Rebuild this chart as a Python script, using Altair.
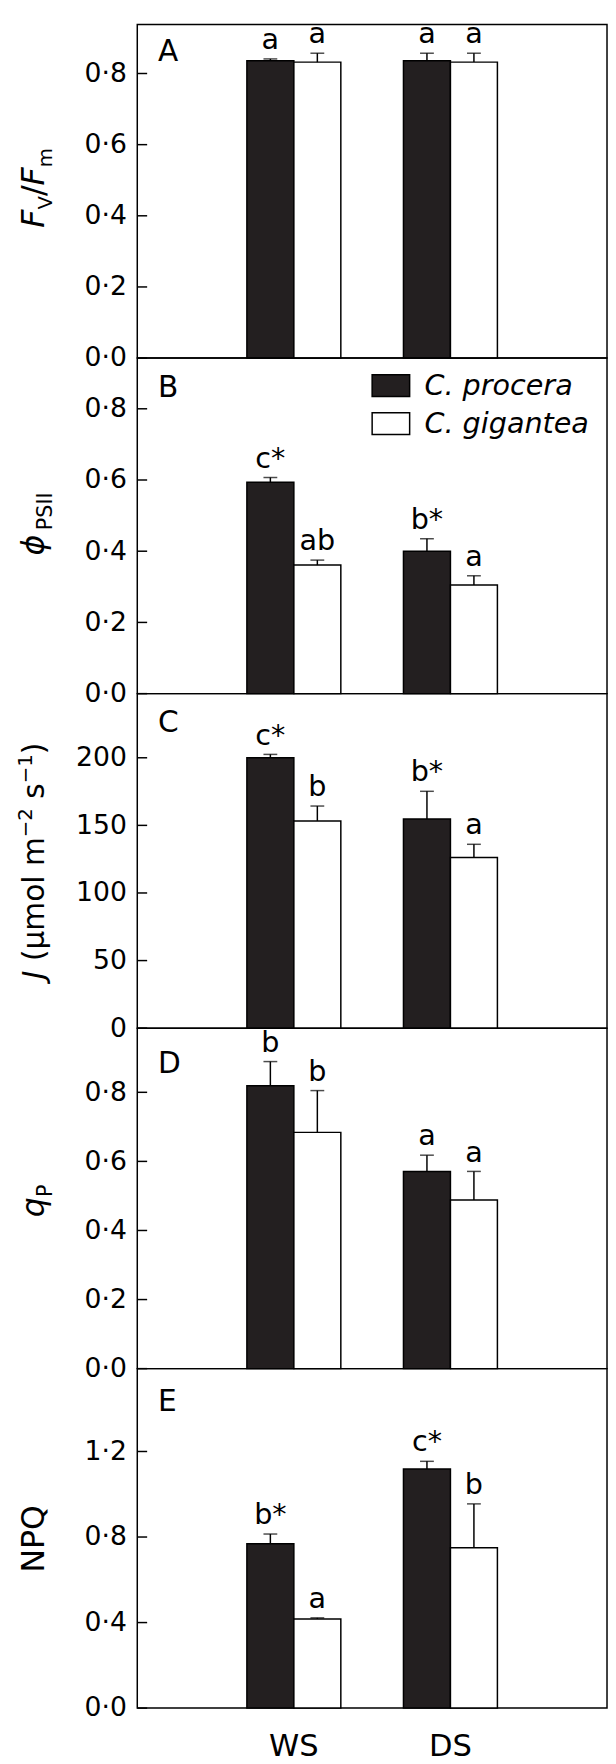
import altair as alt
import pandas as pd

FONT = "DejaVu Sans"
NB = "\u00a0"

conditions = ["WS", "DS"]
species = ["C. procera", "C. gigantea"]

# order of values: WS procera, WS gigantea, DS procera, DS gigantea
fvfm_mean = [0.836, 0.832, 0.836, 0.832]
fvfm_err = [0.005, 0.025, 0.021, 0.025]
fvfm_sig = ["a", "a", "a", "a"]

phi_mean = [0.594, 0.361, 0.400, 0.305]
phi_err = [0.013, 0.014, 0.035, 0.026]
phi_sig = ["c*", "ab", "b*", "a"]

j_mean = [200.0, 153.3, 154.7, 126.3]
j_err = [2.5, 11.0, 20.5, 9.7]
j_sig = ["c*", "b", "b*", "a"]

qp_mean = [0.819, 0.684, 0.571, 0.488]
qp_err = [0.070, 0.121, 0.047, 0.083]
qp_sig = ["b", "b", "a", "a"]

npq_mean = [0.769, 0.417, 1.118, 0.750]
npq_err = [0.045, 0.005, 0.036, 0.205]
npq_sig = ["b*", "a", "c*", "b"]

ticks_frac = [0.0, 0.2, 0.4, 0.6, 0.8]
ticks_j = [0, 50, 100, 150, 200]
ticks_npq = [0.0, 0.4, 0.8, 1.2]

# approximate advance widths (em) for laying out the composite axis titles
ADV = {"F": .575, "V": .684, "/": .337, "m": .974, "ϕ": .80, "P": .603, "S": .635,
       "I": .295, "J": .295, NB: .318, " ": .318, "(": .390, ")": .390, "μ": .636,
       "o": .612, "l": .278, "−": .838, "2": .636, "1": .636, "s": .521, "q": .635,
       "N": .748, "Q": .787}

PLOT_W = 476
one = pd.DataFrame({"k": [0]})


def adv(t, s):
    return sum(ADV.get(c, 0.6) for c in t) * s


def text_piece(txt, x, y, size, italic=False, angle=270, align="left"):
    kw = dict(text=txt, font=FONT, fontSize=size, color="black", align=align,
              baseline="alphabetic")
    if angle:
        kw["angle"] = angle
    if italic:
        kw["fontStyle"] = "italic"
    return alt.Chart(one).mark_text(**kw).encode(x=alt.value(x), y=alt.value(y))


def title_layers(pieces, center, base_x=-95):
    total = sum(adv(t, s) for t, s, it, sh in pieces)
    y = center + total / 2
    out = []
    for t, s, it, sh in pieces:
        lead = len(t) - len(t.lstrip(NB))
        y -= lead * ADV[NB] * s
        t = t.lstrip(NB)
        out.append(text_piece(t, base_x + sh, y, s, it))
        y -= adv(t, s)
    return out


def panel(mean, err, sig, ymax, ticks, height, decimal, pieces, center,
          letter, letter_y, legend=False, xaxis=False):
    df = pd.DataFrame({
        "cond": [c for c in conditions for _ in species],
        "sp": species * 2,
        "mean": mean,
        "err": err,
        "sig": sig,
    })
    df["hi"] = df["mean"] + df["err"]
    base = alt.Chart(df)

    if xaxis:
        xax = alt.Axis(labelFontSize=31, ticks=False, domain=False, labelPadding=24,
                       labelAngle=0, labelFont=FONT, labelColor="black", title=None)
    else:
        xax = None
    xenc = alt.X("cond:N", sort=conditions, title=None, axis=xax,
                 scale=alt.Scale(paddingInner=0.4, paddingOuter=0.7))
    xoff = alt.XOffset("sp:N", sort=species, scale=alt.Scale(paddingInner=0, paddingOuter=0))
    yscale = alt.Scale(domain=[0, ymax], nice=False, zero=True)
    if decimal:
        yax = alt.Axis(values=ticks, labelExpr="replace(format(datum.value, '.1f'), '.', '·')",
                       ticks=False, domain=False, grid=False, title=None, labelPadding=11)
    else:
        yax = alt.Axis(values=ticks, format="d", ticks=False, domain=False, grid=False,
                       title=None, labelPadding=11)

    if legend:
        leg = alt.Legend(orient="none", legendX=237, legendY=8, title=None,
                         symbolType="M-1,-0.58H1V0.58H-1Z", symbolSize=1444,
                         symbolStrokeColor="black", symbolStrokeWidth=1.5,
                         labelFont=FONT, labelFontSize=29, labelFontStyle="italic",
                         labelColor="black", labelOffset=14, rowPadding=3.5, padding=0,
                         labelLimit=0)
    else:
        leg = None
    fill = alt.Fill("sp:N", sort=species, legend=leg,
                    scale=alt.Scale(domain=species, range=["#231f20", "#ffffff"]))

    bars = base.mark_bar(stroke="black", strokeWidth=1.5).encode(
        x=xenc, xOffset=xoff, y=alt.Y("mean:Q", scale=yscale, axis=yax), fill=fill)
    stems = base.mark_rule(color="black", strokeWidth=1.5).encode(
        x=xenc, xOffset=xoff, y=alt.Y("mean:Q", scale=yscale, axis=yax), y2="hi:Q")
    caps = base.mark_tick(color="black", thickness=1.5, size=14, orient="horizontal").encode(
        x=xenc, xOffset=xoff, y=alt.Y("hi:Q", scale=yscale, axis=yax))
    labels = base.mark_text(baseline="alphabetic", dy=-10, fontSize=29, font=FONT,
                            color="black").encode(
        x=xenc, xOffset=xoff, y=alt.Y("hi:Q", scale=yscale, axis=yax), text="sig:N")
    inner = alt.Chart(pd.DataFrame({"v": ticks})).mark_rule(color="black", strokeWidth=1.5).encode(
        y=alt.Y("v:Q", scale=yscale, axis=yax), x=alt.value(0), x2=alt.value(10))

    extra = title_layers(pieces, center)
    extra.append(text_piece(letter, 21, letter_y, 30, angle=0))

    return alt.layer(bars, stems, caps, labels, inner, *extra).properties(
        width=PLOT_W, height=height)


pA = panel(fvfm_mean, fvfm_err, fvfm_sig, 338 / 360.5, ticks_frac, 338, True,
           [("F", 32, True, 0), ("V", 20, False, 9), ("/", 32, False, 0),
            ("F", 32, True, 0), ("m", 20, False, 9)], 165.5, "A", 37)
pB = panel(phi_mean, phi_err, phi_sig, 340 / 360.8, ticks_frac, 340, True,
           [("ϕ", 32, True, 0), ("PSII", 21, False, 9)], 168, "B", 39, legend=True)
pC = panel(j_mean, j_err, j_sig, 339 / 1.37, ticks_j, 339, False,
           [("J", 30, True, 0), (NB + "(μmol m", 30, False, 0), ("−2", 20, False, -12),
            (NB + "s", 30, False, 0), ("−1", 20, False, -12), (")", 30, False, 0)],
           169.5, "C", 39)
pD = panel(qp_mean, qp_err, qp_sig, 345 / 350.0, ticks_frac, 345, True,
           [("q", 32, True, 0), ("P", 21, False, 9)], 175, "D", 45)
pE = panel(npq_mean, npq_err, npq_sig, 344 / 216.7, ticks_npq, 344, True,
           [("NPQ", 32, False, 0)], 172.5, "E", 43, xaxis=True)

chart = alt.vconcat(pA, pB, pC, pD, pE, spacing=0, bounds="flush").resolve_scale(
    fill="independent").resolve_legend(fill="independent").properties(
    padding={"left": 7, "top": 0, "right": 0, "bottom": 0}, background="white"
).configure_view(stroke="black", strokeWidth=1.5).configure_axis(
    labelFont=FONT, labelFontSize=27, labelColor="black")

chart.save("out.html", embed_options={"renderer": "svg", "actions": False})
